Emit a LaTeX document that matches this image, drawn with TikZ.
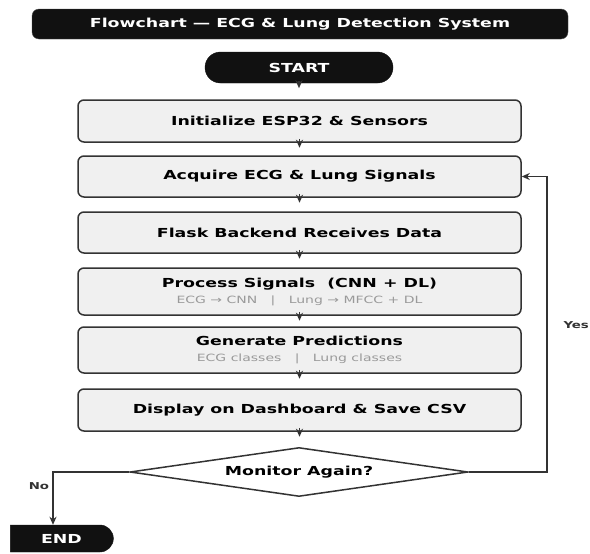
\documentclass[tikz,border=0pt]{standalone}
\usepackage{fontspec}
\setmainfont{DejaVu Sans}[FakeStretch=1.4]
\usetikzlibrary{shapes.geometric,shapes.misc,arrows.meta}
\definecolor{boxfill}{HTML}{F0F0F0}
\definecolor{boxline}{HTML}{333333}
\definecolor{subgray}{HTML}{9A9A9A}
\definecolor{darkfill}{HTML}{111111}
\begin{document}
\begin{tikzpicture}[x=1pt,y=-1pt,
  mainfont/.style={font=\fontsize{12.4}{15}\selectfont\bfseries},
  proc/.style={draw=boxline, fill=boxfill, line width=1.5pt, rounded corners=6pt,
    minimum width=443pt, inner sep=0pt, align=center, mainfont},
  term/.style={rounded rectangle, fill=darkfill, draw=darkfill, text=white, inner sep=0pt, mainfont},
  conn/.style={draw=boxline, line width=1.4pt, -{Stealth[length=8pt,width=7pt,inset=2.5pt]}},
  tip/.style={draw=boxline, line width=1.2pt, -{Stealth[length=8pt,width=7pt,inset=2.5pt]}},
  sub/.style={font=\fontsize{10}{12}\selectfont, text=subgray},
  lab/.style={font=\fontsize{9.5}{11}\selectfont\bfseries, text=boxline}
]
\useasboundingbox (0,0) rectangle (590,554);
\fill[white] (0,0) rectangle (590,554);

% title
\node[fill=darkfill, draw=black!70, rounded corners=7pt, text=white, minimum width=536pt,
  minimum height=30pt, inner sep=0pt, mainfont] (title) at (300,24)
  {Flowchart — ECG \& Lung Detection System};

% start
\node[term, minimum width=188pt, minimum height=31pt] (start) at (299,67.5) {START};

% process boxes
\node[proc, minimum height=42pt] (b1) at (299.5,121) {Initialize ESP32 \& Sensors};
\node[proc, minimum height=41pt] (b2) at (299.5,176.5) {Acquire ECG \& Lung Signals};
\node[proc, minimum height=41pt] (b3) at (299.5,232.5) {Flask Backend Receives Data};
\node[proc, minimum height=47pt] (b4) at (299.5,291.5)
  {Process Signals\ \ (CNN + DL)\\[1pt]{\fontsize{10}{12}\selectfont\mdseries\color{subgray}ECG → CNN\ \ \ |\ \ \ Lung → MFCC + DL}};
\node[proc, minimum height=46pt] (b5) at (299.5,350)
  {Generate Predictions\\[1pt]{\fontsize{10}{12}\selectfont\mdseries\color{subgray}ECG classes\ \ \ |\ \ \ Lung classes}};
\node[proc, minimum height=42pt] (b6) at (299.5,410) {Display on Dashboard \& Save CSV};

% decision
\node[diamond, draw=boxline, fill=white, line width=1.5pt, minimum width=338pt,
  minimum height=49pt, inner sep=0pt, aspect=6.9, mainfont] (dec) at (299,472) {Monitor Again?};

% end
\node[term, rounded rectangle left arc=none, minimum width=103pt, minimum height=27pt] (endn) at (61.5,538.5) {END};

% short arrow heads
\draw[tip] ([yshift=2pt]start.south) -- ([yshift=-5pt]start.south);
\foreach \b in {b1,b2,b3,b4,b5,b6}{
  \draw[tip] ([yshift=4pt]\b.south) -- ([yshift=-5pt]\b.south);
}

% loop back (Yes)
\coordinate (yc) at (547,472);
\draw[conn] (dec.east) -- (yc) |- (b2.east);
\node[lab, anchor=west] (yes) at (560,325) {Yes};

% No
\coordinate (nc) at (53,472);
\draw[conn] (dec.west) -- (nc) -- (nc |- endn.north);
\node[lab] (no) at (39,486) {No};
\end{tikzpicture}
\end{document}
